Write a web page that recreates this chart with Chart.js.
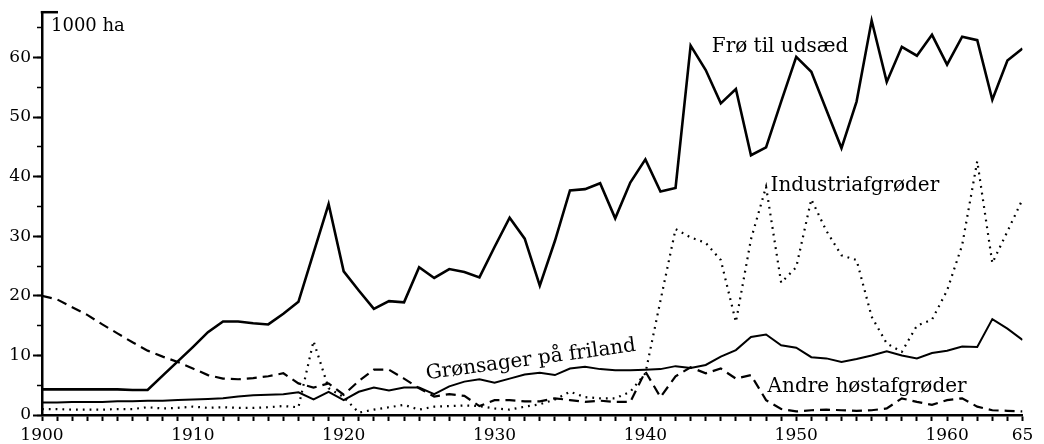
<!DOCTYPE html>
<html>
<head>
<meta charset="utf-8">
<script src="https://cdn.jsdelivr.net/npm/chart.js@4/dist/chart.umd.min.js"></script>
<style>
  html, body { margin: 0; padding: 0; background: #fff; }
</style>
</head>
<body>
<canvas id="chart" width="1044" height="444"></canvas>
<script>
// years 1900 - 1965
const years = [
  1900, 1901, 1902, 1903, 1904, 1905, 1906, 1907, 1908, 1909,
  1910, 1911, 1912, 1913, 1914, 1915, 1916, 1917, 1918, 1919,
  1920, 1921, 1922, 1923, 1924, 1925, 1926, 1927, 1928, 1929,
  1930, 1931, 1932, 1933, 1934, 1935, 1936, 1937, 1938, 1939,
  1940, 1941, 1942, 1943, 1944, 1945, 1946, 1947, 1948, 1949,
  1950, 1951, 1952, 1953, 1954, 1955, 1956, 1957, 1958, 1959,
  1960, 1961, 1962, 1963, 1964, 1965,
];

// Frø til udsæd (1000 ha)
const seed = [
  4.3, 4.3, 4.3, 4.3, 4.3, 4.3, 4.2, 4.2, 6.6, 9.0,
  11.4, 13.9, 15.7, 15.7, 15.4, 15.2, 17.0, 19.0, 27.2, 35.4,
  24.1, 20.9, 17.8, 19.1, 18.9, 24.8, 23.0, 24.5, 24.0, 23.1,
  28.2, 33.1, 29.6, 21.7, 29.2, 37.7, 37.9, 38.9, 33.0, 39.0,
  42.9, 37.5, 38.1, 62.0, 57.9, 52.3, 54.7, 43.6, 44.9, 52.6,
  60.1, 57.6, 51.2, 44.8, 52.6, 66.2, 55.9, 61.8, 60.3, 63.8,
  58.8, 63.5, 62.9, 52.9, 59.5, 61.5,
];

// Grønsager på friland
const vegetables = [
  2.1, 2.1, 2.2, 2.2, 2.2, 2.3, 2.3, 2.4, 2.4, 2.5,
  2.6, 2.7, 2.8, 3.1, 3.3, 3.4, 3.5, 3.8, 2.6, 3.9,
  2.5, 3.9, 4.6, 4.1, 4.6, 4.6, 3.5, 4.8, 5.6, 6.0,
  5.4, 6.1, 6.8, 7.1, 6.7, 7.8, 8.1, 7.7, 7.5, 7.5,
  7.6, 7.7, 8.2, 7.9, 8.4, 9.8, 10.9, 13.1, 13.5, 11.7,
  11.3, 9.7, 9.5, 8.9, 9.4, 10.0, 10.7, 10.0, 9.5, 10.4,
  10.8, 11.5, 11.4, 16.1, 14.5, 12.6,
];

// Industriafgrøder
const industrial = [
  1.0, 1.0, 0.9, 0.9, 0.9, 1.0, 1.0, 1.3, 1.1, 1.2,
  1.4, 1.2, 1.3, 1.2, 1.2, 1.3, 1.5, 1.3, 12.4, 4.5,
  3.0, 0.4, 0.9, 1.3, 1.7, 0.9, 1.4, 1.5, 1.6, 1.5,
  1.1, 0.9, 1.4, 1.8, 2.6, 3.9, 3.0, 2.8, 2.8, 3.9,
  7.0, 19.2, 31.2, 29.8, 28.9, 26.0, 15.6, 29.5, 38.3, 22.2,
  24.8, 36.2, 30.9, 26.8, 26.0, 16.5, 12.0, 10.6, 15.0, 16.0,
  20.9, 28.5, 42.6, 25.5, 30.8, 36.2,
];

// Andre høstafgrøder
const otherCrops = [
  20.0, 19.4, 18.1, 16.8, 15.2, 13.7, 12.2, 10.8, 9.8, 8.9,
  7.8, 6.7, 6.1, 6.0, 6.2, 6.5, 7.0, 5.3, 4.6, 5.3,
  3.4, 5.7, 7.6, 7.6, 6.1, 4.5, 3.1, 3.5, 3.2, 1.5,
  2.5, 2.5, 2.3, 2.3, 2.8, 2.5, 2.2, 2.4, 2.2, 2.2,
  7.3, 3.0, 6.5, 8.0, 7.0, 7.8, 6.1, 6.7, 2.5, 1.0,
  0.6, 0.8, 0.9, 0.8, 0.7, 0.8, 1.1, 2.8, 2.2, 1.7,
  2.5, 2.8, 1.4, 0.8, 0.7, 0.6,
];

// x tick labels (decades + last year)
const xTickYears = [1900, 1910, 1920, 1930, 1940, 1950, 1960, 1965];
const xTickText = ["1900", "1910", "1920", "1930", "1940", "1950", "1960", "65"];
const yTickValues = [0, 10, 20, 30, 40, 50, 60];

// text written inside the plot, anchored in data units
const seriesLabels = [
  { text: "Frø til udsæd", x: 1944.4, y: 60.9, angle: 0 },
  { text: "Industriafgrøder", x: 1948.3, y: 37.6, angle: 0 },
  { text: "Grønsager på friland", x: 1925.5, y: 6.0, angle: -7.7 },
  { text: "Andre høstafgrøder", x: 1948.1, y: 3.9, angle: 0 },
];

const serif = "'DejaVu Serif', 'Liberation Serif', serif";

function toPoints(values) {
  return years.map((yr, i) => ({ x: yr, y: values[i] }));
}

const textPlugin = {
  id: "textPlugin",
  afterDraw(chart) {
    const { ctx, chartArea, scales } = chart;
    ctx.save();
    ctx.strokeStyle = "#000";
    ctx.fillStyle = "#000";

    // little cap on top of the y axis
    ctx.lineWidth = 2.5;
    ctx.beginPath();
    ctx.moveTo(chartArea.left - 1.25, chartArea.top);
    ctx.lineTo(chartArea.left + 16, chartArea.top);
    ctx.stroke();

    ctx.font = "18px " + serif;
    ctx.textBaseline = "alphabetic";
    ctx.fillText("1000 ha", chartArea.left + 9, chartArea.top + 19);

    ctx.font = "20px " + serif;
    seriesLabels.forEach((lab) => {
      const px = scales.x.getPixelForValue(lab.x);
      const py = scales.y.getPixelForValue(lab.y);
      ctx.save();
      ctx.translate(px, py);
      ctx.rotate((lab.angle * Math.PI) / 180);
      ctx.fillText(lab.text, 0, 0);
      ctx.restore();
    });
    ctx.restore();
  },
};

const ctx = document.getElementById("chart").getContext("2d");

new Chart(ctx, {
  type: "line",
  data: {
    datasets: [
      {
        label: "Frø til udsæd",
        data: toPoints(seed),
        borderColor: "#000",
        borderWidth: 2.6,
      },
      {
        label: "Grønsager på friland",
        data: toPoints(vegetables),
        borderColor: "#000",
        borderWidth: 2,
      },
      {
        label: "Industriafgrøder",
        data: toPoints(industrial),
        borderColor: "#000",
        borderWidth: 2.2,
        borderDash: [1.8, 5],
      },
      {
        label: "Andre høstafgrøder",
        data: toPoints(otherCrops),
        borderColor: "#000",
        borderWidth: 2.2,
        borderDash: [10, 6],
      },
    ],
  },
  options: {
    responsive: false,
    animation: false,
    events: [],
    layout: { padding: { left: 0, right: 21.5, top: 10, bottom: 0 } },
    elements: {
      point: { radius: 0 },
      line: { tension: 0, fill: false },
    },
    plugins: {
      legend: { display: false },
      tooltip: { enabled: false },
    },
    scales: {
      x: {
        type: "linear",
        min: 1900,
        max: 1965,
        afterFit: (s) => { s.height = 29; },
        ticks: {
          stepSize: 1,
          autoSkip: false,
          maxRotation: 0,
          padding: 4,
          color: "#000",
          font: { family: serif, size: 17 },
          callback: (v) => {
            const k = xTickYears.indexOf(v);
            return k >= 0 ? xTickText[k] : "";
          },
        },
        grid: { drawOnChartArea: false, tickLength: 6, tickWidth: 2, tickColor: "#000" },
        border: { color: "#000", width: 2.5 },
      },
      y: {
        position: "left",
        weight: 1,
        min: 0,
        max: 67.6,
        afterFit: (s) => { s.width = 42; },
        afterBuildTicks: (s) => {
          s.ticks = s.ticks.filter((t) => yTickValues.includes(t.value));
        },
        ticks: {
          stepSize: 10,
          padding: 2,
          color: "#000",
          font: { family: serif, size: 17 },
        },
        grid: { drawOnChartArea: false, tickLength: 9, tickWidth: 2, tickColor: "#000" },
        border: { color: "#000", width: 2.5 },
      },
      yMinor: {
        position: "left",
        weight: 0,
        min: 0,
        max: 67.6,
        afterFit: (s) => { s.width = 0; },
        afterBuildTicks: (s) => {
          s.ticks = s.ticks.filter((t) => t.value <= 65);
        },
        ticks: { stepSize: 2.5, callback: () => "" },
        grid: { drawOnChartArea: false, tickLength: 5, tickWidth: 1.5, tickColor: "#000" },
        border: { display: false },
      },
    },
  },
  plugins: [textPlugin],
});
</script>
</body>
</html>
